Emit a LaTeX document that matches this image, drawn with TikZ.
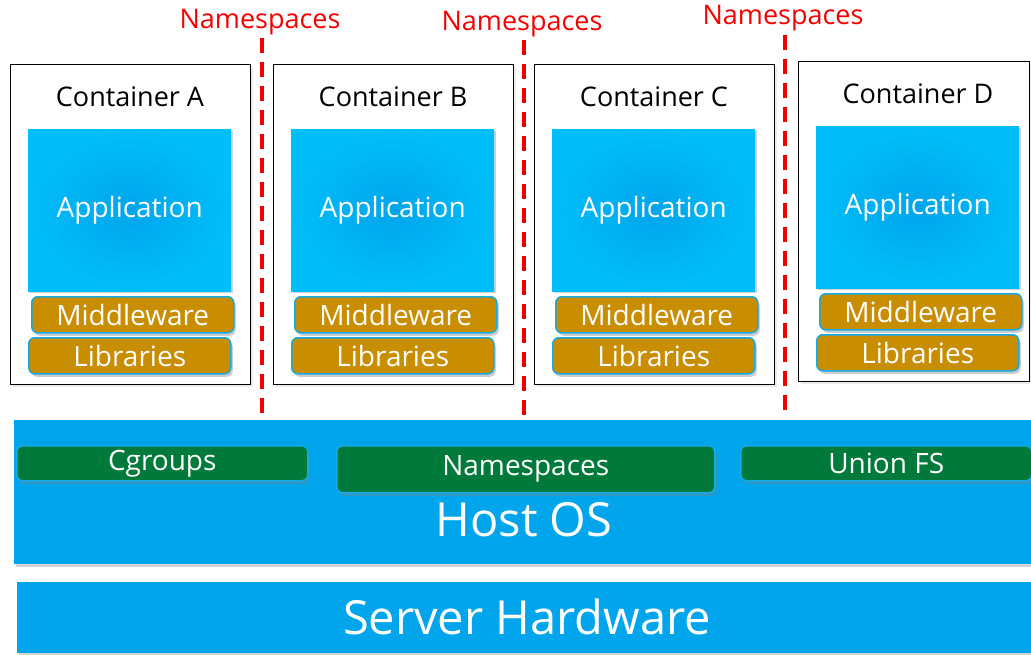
\documentclass[tikz,border=0pt]{standalone}
\usepackage{fontspec}
\setmainfont{Open Sans}
\definecolor{blued}{RGB}{0,165,235}
\definecolor{bluel}{RGB}{0,190,250}
\definecolor{gold}{RGB}{201,141,0}
\definecolor{green}{RGB}{0,122,58}
\definecolor{edge}{RGB}{20,170,230}
\definecolor{nsred}{RGB}{245,0,0}
\usetikzlibrary{
	positioning,
	shadows,
	calc
}
\tikzset{
  % boxes
	cstcont/.style   ={draw=black,line width=1.2pt,fill=white,anchor=north west,inner sep=0pt,
	                   drop shadow={shadow xshift=2pt,shadow yshift=-2pt,opacity=.15}},
	cstapp/.style    ={anchor=north west,inner sep=0pt,minimum width=203pt,minimum height=162pt,
	                   inner color=blued,outer color=bluel,text=white,
	                   drop shadow={shadow xshift=2pt,shadow yshift=-2pt,opacity=.35}},
	cstlayer/.style  ={anchor=north west,inner sep=0pt,minimum width=202pt,minimum height=36pt,
	                   fill=gold,draw=edge,line width=1.5pt,rounded corners=6pt,text=white,
	                   drop shadow={shadow xshift=2pt,shadow yshift=-3pt,opacity=.4}},
	cstos/.style     ={anchor=north west,inner sep=0pt,fill=green,draw=edge,line width=1.5pt,
	                   rounded corners=6pt,text=white,
	                   drop shadow={shadow xshift=2pt,shadow yshift=-3pt,opacity=.4}},
	cstband/.style   ={anchor=north west,inner sep=0pt,left color=blued,middle color=bluel,right color=blued,
	                   drop shadow={shadow xshift=2pt,shadow yshift=-4pt,opacity=.35}},
  % text
	csttitle/.style  ={font=\fontsize{27}{30}\selectfont},
	cstbig/.style    ={font=\fontsize{28}{32}\selectfont},
	csthuge/.style   ={font=\fontsize{47}{52}\selectfont,text=white},
	cstns/.style     ={font=\fontsize{27}{30}\selectfont,text=nsred},
	cstsep/.style    ={nsred,line width=4pt,dash pattern=on 15pt off 9pt}
}

\begin{document}
\begin{tikzpicture}[x=1pt,y=-1pt]
	\useasboundingbox (0,0) rectangle (1031,655);
	% containers
	\foreach \n/\x/\y/\w in {A/10/64/240, B/273/64/240, C/534/64/240, D/798/61/231}{
		\node[cstcont,minimum width=\w pt,minimum height=320pt] (c\n) at (\x,\y) {};
		\node[csttitle] (t\n) at ($(c\n.north west)+(120,33)$) {Container \n};
		\node[cstapp,cstbig] (app\n) at ($(c\n.north west)+(18,65)$) {Application};
		\node[cstlayer,cstbig] (mid\n) at ($(c\n.north west)+(21,232)$) {Middleware};
		\node[cstlayer,cstbig] (lib\n) at ($(c\n.north west)+(18,273)$) {Libraries};
	}
	% host os
	\node[cstband,minimum width=1017pt,minimum height=143pt] (host) at (14,420) {};
	\node[csthuge] (hostlbl) at (524,520) {Host OS};
	\node[cstos,cstbig,minimum width=291pt,minimum height=35pt] (cg) at (16,445) {Cgroups};
	\node[cstos,cstbig,minimum width=378pt,minimum height=47pt] (nsp) at (336,445) {Namespaces};
	\node[cstos,cstbig,minimum width=291pt,minimum height=35pt] (ufs) at (740,445) {Union FS};
	% hardware
	\node[cstband,minimum width=1014pt,minimum height=70pt] (hw) at (17,582) {};
	\node[csthuge] (hwlbl) at (527,617) {Server Hardware};
	% namespaces
	\node[cstns] (ns1) at (260,22) {Namespaces};
	\node[cstns] (ns2) at (522,24) {Namespaces};
	\node[cstns] (ns3) at (783,18) {Namespaces};
	\draw[cstsep] (262,38) -- (262,418);
	\draw[cstsep] (524,40) -- (524,418);
	\draw[cstsep] (785,35) -- (785,415);
\end{tikzpicture}
\end{document}
